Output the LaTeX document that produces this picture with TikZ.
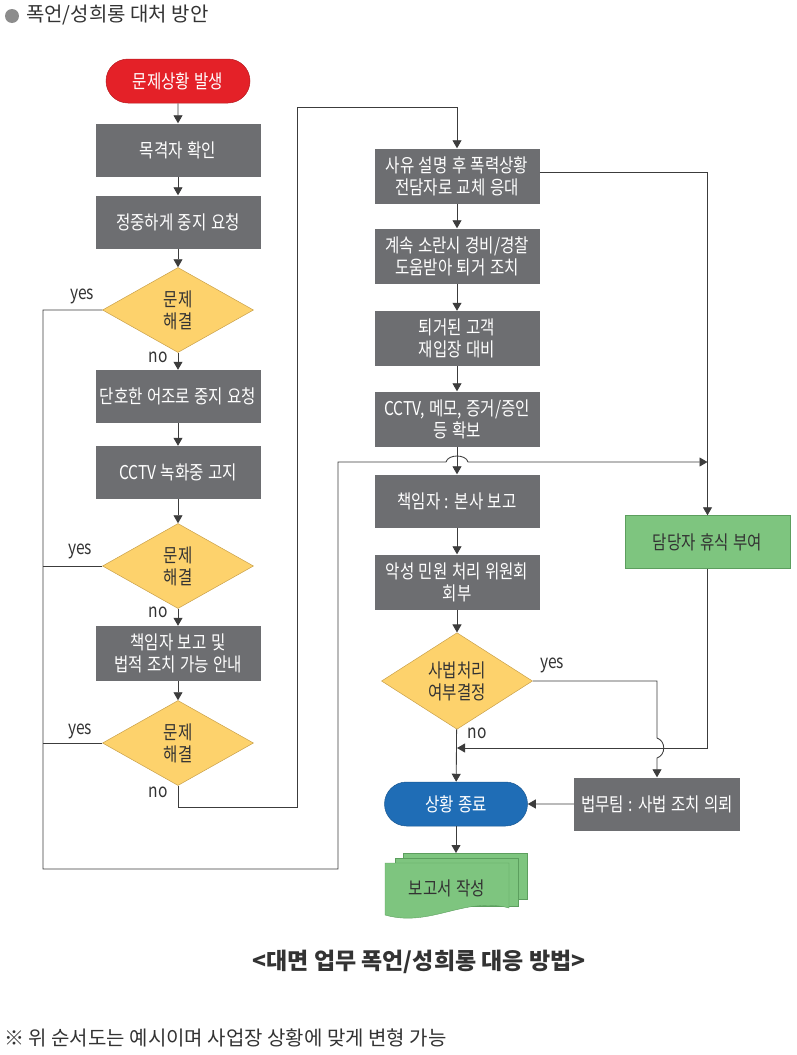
\documentclass[tikz,border=0pt]{standalone}
\usepackage{fontspec}
\setmainfont{Noto Sans CJK KR}
\newfontfamily\bfnt[FakeStretch=0.82,WordSpace=1.25]{Noto Sans CJK KR}
\usetikzlibrary{arrows.meta,shapes.geometric,shapes.misc}
\definecolor{boxgray}{HTML}{6D6E71}
\definecolor{startred}{HTML}{E42128}
\definecolor{endblue}{HTML}{1F6DB6}
\definecolor{dyellow}{HTML}{FDD26C}
\definecolor{dedge}{HTML}{C9A04A}
\definecolor{sgreen}{HTML}{7EC57F}
\definecolor{sedge}{HTML}{5C9E5E}
\definecolor{lnc}{HTML}{3C3C3C}
\definecolor{txt}{HTML}{333333}
\begin{document}
\begin{tikzpicture}[x=1pt,y=-1pt,
  every node/.style={font=\bfnt\fontsize{19}{22}\selectfont},
  gbox/.style={rectangle,fill=boxgray,text=white,minimum width=165,minimum height=53,align=center,inner sep=0},
  gbbox/.style={gbox,minimum height=55},
  dec/.style={diamond,fill=dyellow,draw=dedge,line width=0.5pt,text=txt,minimum width=151,minimum height=85,inner sep=0,align=center},
  term/.style={rounded rectangle,minimum width=144,minimum height=44,inner sep=0,text=white},
  grbox/.style={rectangle,fill=sgreen,draw=sedge,line width=0.4pt,text=txt,minimum width=165,minimum height=53,inner sep=0},
  sheet/.style={fill=sgreen,draw=sedge,line width=0.4pt},
  lab/.style={text=txt,inner sep=0},
  ln/.style={draw=lnc,line width=0.85pt},
  arr/.style={ln,-{Triangle[width=9pt,length=8pt]}}
]
\useasboundingbox (0,0) rectangle (797,1055);
% title
\fill[black!45] (12,16) circle (7);
\node[anchor=west,font=\fontsize{20}{24}\selectfont,text=txt,inner sep=0] (title) at (26,15) {폭언/성희롱 대처 방안};
% left column
\node[term,fill=startred,draw=startred!80!black,line width=0.5pt] (start) at (178,81) {문제상황 발생};
\node[gbox] (b1) at (178,150) {목격자 확인};
\node[gbox] (b2) at (178,222) {정중하게 중지 요청};
\node[dec] (d1) at (178,310) {문제\\해결};
\node[gbox] (b3) at (178,396.5) {단호한 어조로 중지 요청};
\node[gbox] (b4) at (178,472.5) {CCTV 녹화중 고지};
\node[dec] (d2) at (178,566) {문제\\해결};
\node[gbbox] (b5) at (178,653.5) {책임자 보고 및\\법적 조치 가능 안내};
\node[dec] (d3) at (178,743) {문제\\해결};
% middle column
\node[gbbox] (m1) at (457,176) {사유 설명 후 폭력상황\\전담자로 교체 응대};
\node[gbbox] (m2) at (457,256) {계속 소란시 경비/경찰\\도움받아 퇴거 조치};
\node[gbbox] (m3) at (457,338.5) {퇴거된 고객\\재입장 대비};
\node[gbbox] (m4) at (457,419) {CCTV, 메모, 증거/증인\\등 확보};
\node[gbox] (m5) at (457,501) {책임자 : 본사 보고};
\node[gbbox] (m6) at (457,582) {악성 민원 처리 위원회\\회부};
\node[dec,minimum height=87] (dm) at (457,681) {사법처리\\여부결정};
\node[grbox] (dam) at (707.5,542) {담당자 휴식 부여};
\node[term,fill=endblue,draw=endblue!80!black,line width=0.5pt,minimum width=143] (endn) at (456,804) {상황 종료};
\node[gbox,minimum width=166] (law) at (657,804) {법무팀 : 사법 조치 의뢰};
% document stack
\filldraw[sheet] (403,853) rectangle (527,899);
\filldraw[sheet] (395,858) rectangle (518,906);
\filldraw[sheet] (385,863) -- (509,863) -- (509,908) .. controls (465,896) and (430,928) .. (385,915) -- cycle;
\node[text=txt] (doc) at (447,888) {보고서 작성};
\coordinate (doctop) at (456,853);
% labels
\node[lab] (y1) at (82,296) {yes};
\node[lab] (y2) at (80,551) {yes};
\node[lab] (y3) at (80,731) {yes};
\node[lab] (y4) at (552,665) {yes};
\node[lab] (n1) at (158,357) {no};
\node[lab] (n2) at (158,612) {no};
\node[lab] (n3) at (158,792) {no};
\node[lab] (n4) at (477,733) {no};
% captions
\node[font=\bfseries\fontsize{23}{26}\selectfont,text=txt] (cap) at (419,962) {<대면 업무 폭언/성희롱 대응 방법>};
\node[anchor=west,font=\fontsize{20}{22}\selectfont,text=txt,inner sep=0] (note) at (4,1038) {※ 위 순서도는 예시이며 사업장 상황에 맞게 변형 가능};
% coordinates
\coordinate (lb) at (43,869);
\coordinate (lc) at (338,869);
\coordinate (ld) at (338,462);
\coordinate (jl) at (446,462);
\coordinate (jr) at (468,462);
\coordinate (dj) at (707.5,462);
\coordinate (la) at (297,807);
\coordinate (lt) at (297,107);
\coordinate (dmj) at (457,748);
\coordinate (ya) at (657,738);
\coordinate (yb) at (657,758);
% left arrows
\draw[arr] (start) -- (b1);
\draw[arr] (b1) -- (b2);
\draw[arr] (b2) -- (d1);
\draw[arr] (d1) -- (b3);
\draw[arr] (b3) -- (b4);
\draw[arr] (b4) -- (d2);
\draw[arr] (d2) -- (b5);
\draw[arr] (b5) -- (d3);
\draw[arr] (d3.south) |- (la) -- (lt) -| (m1.north);
\draw[ln] (d2.west) -- (d2.west -| lb);
\draw[ln] (d3.west) -- (d3.west -| lb);
\draw[arr] (d1.west) -| (lb) -- (lc) -- (ld) -- (jl) .. controls (448,454) and (466,454) .. (jr) -- (dj);
% middle arrows
\draw[arr] (m1) -- (m2);
\draw[arr] (m2) -- (m3);
\draw[arr] (m3) -- (m4);
\draw[arr] (m4) -- (m5);
\draw[arr] (m5) -- (m6);
\draw[arr] (m6) -- (dm);
\draw[arr] (dm) -- (endn);
\draw[arr] ([yshift=4pt]m1.east) -| (dam.north);
\draw[arr] (dam.south) |- (dmj);
\draw[arr] (dm.east) -| (ya) .. controls (666,741) and (666,755) .. (yb) -- (law.north);
\draw[arr] (law) -- (endn);
\draw[arr] (endn) -- (doctop);
\end{tikzpicture}
\end{document}
